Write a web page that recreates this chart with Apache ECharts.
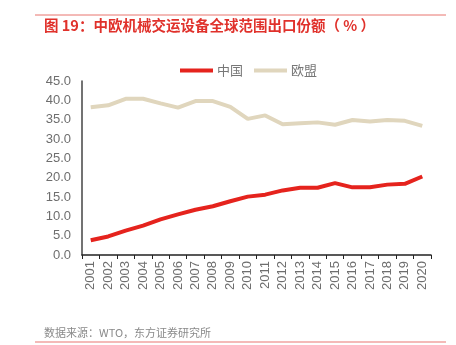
<!DOCTYPE html>
<html><head><meta charset="utf-8">
<script src="https://cdn.jsdelivr.net/npm/echarts@6/dist/echarts.min.js"></script>
<style>html,body{margin:0;padding:0;background:#fff;}#c{width:456px;height:345px;}</style>
</head><body><div id="c"></div>
<script>
var years = ['2001','2002','2003','2004','2005','2006','2007','2008','2009','2010','2011','2012','2013','2014','2015','2016','2017','2018','2019','2020'];
var china = [3.8,4.8,6.3,7.6,9.2,10.5,11.7,12.6,13.9,15.1,15.6,16.7,17.4,17.4,18.6,17.5,17.5,18.2,18.4,20.3];
var eu = [38.2,38.7,40.4,40.4,39.2,38.1,39.8,39.8,38.3,35.2,36.1,33.8,34.1,34.3,33.7,34.9,34.5,34.9,34.7,33.4];
var seriesNames = ['中国','欧盟'];
var titleText = '图 19：中欧机械交运设备全球范围出口份额（ % ）';
var sourceText = '数据来源：WTO，东方证券研究所';

var chart = echarts.init(document.getElementById('c'), null, {renderer:'canvas'});
var font = 'Liberation Sans, Arial, "Noto Sans CJK SC", sans-serif';
chart.setOption({
  animation:false,
  textStyle:{fontFamily:font},
  graphic:[
    {type:'line', shape:{x1:35,y1:15,x2:446,y2:15}, style:{stroke:'#e8756f', lineWidth:1}},
    {type:'text', left:44, top:18, style:{text:titleText, fill:'#e0312b', font:'bold 14.5px "Noto Sans CJK SC", sans-serif'}},
    {type:'text', left:44, top:327, style:{text:sourceText, fill:'#8a8a8a', font:'11px "Noto Sans CJK SC", sans-serif'}},
    {type:'line', shape:{x1:35,y1:342,x2:446,y2:342}, style:{stroke:'#f0a3a0', lineWidth:1.5}}
  ],
  legend:{
    data:seriesNames, top:59, left:175, itemWidth:33, itemHeight:4, itemGap:11,
    icon:'rect',
    textStyle:{fontSize:13, color:'#777', fontFamily:'"Noto Sans CJK SC", sans-serif', padding:[0,0,0,-1]}
  },
  grid:{left:82, right:25, top:81, bottom:90},
  xAxis:{
    type:'category', data:years, boundaryGap:true,
    axisLine:{lineStyle:{color:'#222', width:1.5}},
    axisTick:{show:true, length:4, lineStyle:{color:'#222'}, alignWithLabel:false},
    axisLabel:{rotate:90, fontSize:13, color:'#6e6e6e', margin:6, interval:0}
  },
  yAxis:{
    type:'value', min:0, max:45, interval:5,
    axisLine:{show:true, lineStyle:{color:'#444', width:1.5}},
    axisTick:{show:false},
    splitLine:{show:false},
    axisLabel:{fontSize:13, color:'#6e6e6e', margin:11, formatter:function(v){return v.toFixed(1);}}
  },
  series:[
    {name:seriesNames[0], type:'line', data:china, symbol:'none', lineStyle:{color:'#e5231d', width:4}, itemStyle:{color:'#e5231d'}},
    {name:seriesNames[1], type:'line', data:eu, symbol:'none', lineStyle:{color:'#e0d6bd', width:4}, itemStyle:{color:'#e0d6bd'}}
  ]
});
</script></body></html>
